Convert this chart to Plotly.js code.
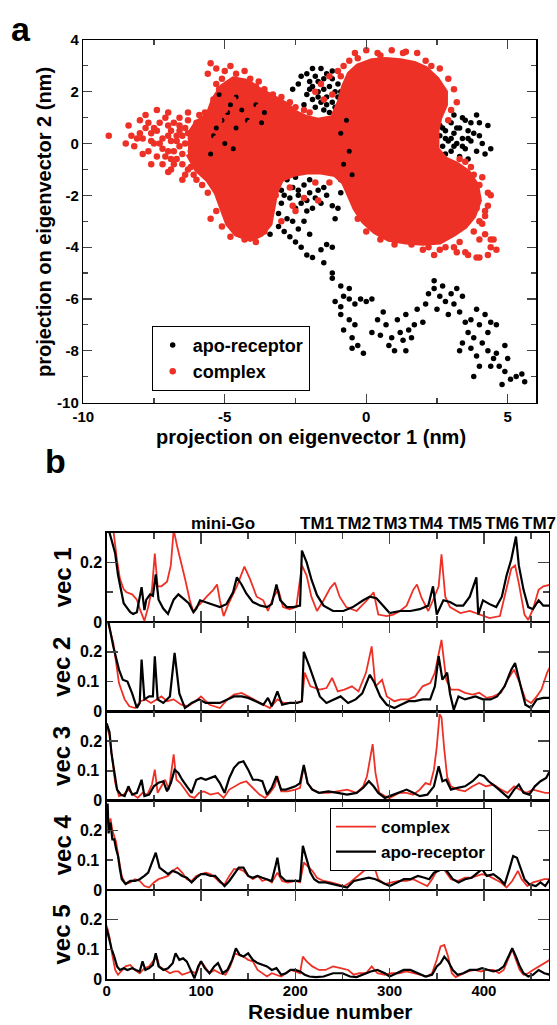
<!DOCTYPE html>
<html><head><meta charset="utf-8">
<script src="https://cdn.plot.ly/plotly-3.0.1.min.js"></script>
<style>html,body{margin:0;padding:0;background:#fff}#chart{width:557px;height:1025px}</style>
</head><body><div id="chart"></div>
<script>
// ---------- Panel a data: projections (nm) ----------
const apoPts = [
[-2.0,2.4],[-1.8,2.6],[-1.6,2.9],[-1.4,2.7],[-1.2,2.5],[-1.9,2.2],[-1.7,2.0],[-1.5,2.1],[-1.3,2.2],[-1.1,2.0],
[-2.1,1.9],[-1.9,1.7],[-1.6,1.6],[-1.4,1.8],[-1.2,1.6],[-1.0,1.8],[-1.8,1.4],[-1.5,1.3],[-1.3,1.2],[-1.1,1.4],
[-2.3,2.6],[-2.1,2.7],[-1.7,2.4],[-1.0,2.3],[-0.9,2.0],[-2.6,2.1],[-2.2,1.5],[-0.8,1.5],[-1.5,2.5],[-1.9,2.9],
[-1.2,2.8],[-2.0,2.1],[-1.4,1.5],[-1.7,1.8],[-2.4,2.3],
[2.6,0.3],[2.8,0.5],[2.9,0.1],[3.0,0.8],[3.1,0.4],[3.2,0.0],[3.3,0.6],[3.4,0.2],[3.5,-0.2],[3.6,0.5],
[3.7,0.1],[3.8,0.4],[3.9,-0.3],[4.0,0.3],[4.1,0.0],[4.3,0.7],[4.4,-0.2],[4.2,-0.4],[3.1,1.1],[3.4,1.0],
[3.9,1.1],[2.7,-0.1],[3.0,-0.3],[3.3,-0.5],[3.6,-0.6],[2.9,0.9],[3.5,0.9],[2.6,0.7],[4.0,0.8],[3.7,0.8],
[2.8,-0.4],[2.85,-3.2],[3.0,0.2],[3.2,0.6],[2.8,0.2],[3.4,-0.1],[3.1,-0.1],[2.7,0.6],[3.6,0.2],
[-3.5,-1.3],[-3.2,-1.5],[-3.0,-1.8],[-2.8,-1.4],[-2.6,-1.7],[-2.4,-2.0],[-2.2,-1.6],[-2.0,-1.9],[-1.8,-2.1],[-1.6,-2.3],
[-1.4,-2.0],[-1.2,-2.4],[-1.0,-2.5],[-3.3,-2.0],[-3.0,-2.3],[-2.7,-2.1],[-2.5,-2.5],[-2.3,-2.3],[-2.1,-2.6],[-1.9,-2.5],
[-3.6,-2.6],[-3.4,-2.9],[-3.1,-2.7],[-2.8,-2.9],[-2.6,-3.0],[-3.7,-3.3],[-3.4,-3.5],[-3.1,-3.2],[-2.9,-3.4],[-2.7,-3.6],
[-2.4,-3.3],[-2.2,-3.0],[-2.0,-3.5],[-3.9,-3.1],[-2.5,-1.3],[-2.0,-1.4],[-1.5,-1.7],[-1.1,-2.9],[-0.9,-1.9],[-0.5,-2.0],
[-0.3,-2.2],[-0.9,-1.4],[-2.9,-2.0],[-2.4,-1.8],[-2.1,-2.2],[-1.7,-1.8],
[-2.5,-3.8],[-2.3,-4.0],[-2.1,-4.3],[-1.9,-4.4],[-1.6,-4.1],[-1.4,-3.9],[-1.2,-4.0],[-1.5,-4.6],[-1.2,-5.0],[-1.2,-5.2],
[-0.9,-5.5],[-0.6,-5.6],
[-1.1,-6.1],[-0.9,-6.3],[-0.8,-5.9],[-0.6,-6.0],[-0.4,-6.2],[-0.2,-6.0],[0.0,-6.1],[0.2,-6.0],[-0.9,-6.6],[-0.6,-6.8],
[-0.4,-7.0],[-0.8,-7.2],[-0.5,-7.5],[-0.3,-7.8],[-0.5,-7.9],[-0.1,-8.1],[0.2,-7.3],[0.4,-6.8],[0.5,-7.4],[0.7,-7.0],
[0.6,-6.5],[0.8,-7.8],[0.9,-7.5],[1.0,-8.0],[1.2,-7.3],[1.3,-7.6],[1.1,-6.8],[1.5,-7.2],[1.4,-6.6],[1.7,-7.0],
[1.8,-6.4],[1.6,-7.5],[1.4,-8.0],[2.0,-6.9],[2.1,-6.2],[2.2,-5.8],[2.4,-5.6],[2.6,-5.9],[2.8,-6.1],[3.0,-5.8],
[3.1,-6.2],[2.5,-6.4],[2.9,-6.6],[3.2,-5.6],[3.4,-5.9],[2.4,-5.3],[2.7,-5.5],[3.3,-6.5],[3.5,-6.9],[3.6,-7.3],
[3.4,-7.7],[3.3,-8.0],[3.7,-7.9],[3.9,-8.2],[3.8,-7.5],[4.0,-7.0],[4.2,-6.6],[4.4,-6.9],[4.6,-7.0],[4.1,-7.7],
[4.3,-8.0],[4.5,-8.3],[4.7,-8.6],[4.9,-8.8],[5.1,-9.1],[5.3,-9.0],[5.5,-8.9],[5.6,-9.2],[4.8,-9.3],[4.4,-8.6],
[4.0,-8.6],[3.8,-9.0],[4.6,-8.1],[3.7,-6.8],[4.9,-7.8],[5.0,-8.3],[3.9,-6.4],[4.3,-7.3]
];
// apo-receptor points that show through the sparse parts of the complex cloud
const apoMixedPts = [
[-5.4,0.3],[-5.3,0.6],[-5.1,0.9],[-4.9,1.2],[-4.8,1.5],[-4.6,1.8],[-4.4,1.3],[-4.2,0.9],[-5.0,0.0],[-4.7,-0.2],
[-3.9,1.5],[-3.6,1.2],[-5.2,1.9],[-4.6,0.6],[-5.5,-0.4],[-3.7,0.8],
[-0.9,0.4],[-0.6,-0.3],[-0.8,-0.8],[-0.5,-1.2],[-0.7,0.9]
];
const complexCore = [
[-6.3,0.3],[-6.0,0.8],[-5.6,1.1],[-5.4,1.7],[-5.1,2.2],[-4.7,2.5],[-4.2,2.4],[-3.8,2.1],[-3.3,1.8],[-2.8,1.5],
[-2.5,1.2],[-2.1,1.0],[-1.7,0.9],[-1.2,1.0],[-0.95,1.6],[-0.8,2.2],[-0.6,2.7],
[-0.3,3.0],[0.2,3.2],[0.7,3.25],[1.2,3.2],[1.7,3.1],[2.1,2.9],[2.5,2.5],[2.8,2.0],[2.8,1.5],[2.6,1.0],
[2.5,0.5],[2.5,-0.2],[2.8,-0.6],[3.2,-0.8],[3.6,-1.1],[3.9,-1.6],[4.0,-2.2],[3.8,-2.8],[3.5,-3.2],[3.1,-3.5],
[2.6,-3.8],[2.0,-3.85],[1.4,-3.8],[0.8,-3.7],[0.3,-3.4],[-0.1,-3.0],[-0.4,-2.5],[-0.6,-2.0],[-0.8,-1.5],[-1.1,-1.2],
[-1.6,-1.1],[-2.1,-1.1],[-2.6,-1.2],[-3.0,-1.4],[-3.2,-1.9],[-3.3,-2.5],[-3.4,-3.1],[-3.7,-3.5],[-4.1,-3.7],[-4.6,-3.5],
[-4.9,-3.1],[-5.1,-2.5],[-5.3,-1.9],[-5.6,-1.4],[-6.0,-1.0],[-6.3,-0.4]
];
const complexPts = [
[-9.1,0.3],[-8.4,0.7],[-8.3,0.3],[-8.2,-0.1],[-8.0,0.9],[-7.8,1.1],[-7.6,0.4],[-7.5,0.0],[-7.4,-0.5],[-7.3,0.8],
[-7.1,1.0],[-7.0,-0.3],[-6.9,0.5],[-6.8,-0.8],[-6.7,0.1],[-6.6,1.0],[-6.5,-0.4],[-6.4,0.6],[-6.3,-1.0],[-6.2,0.2],
[-6.1,-0.6],[-6.0,0.8],[-6.0,-1.4],[-5.9,0.4],[-5.8,-0.2],[-5.7,-1.2],[-5.6,1.0],[-7.9,0.2],[-7.7,-0.3],[-7.2,0.2],
[-6.9,-1.0],[-6.6,-0.1],[-6.4,-1.2],[-6.2,-0.9],[-7.4,1.3],[-6.8,0.8],[-6.3,0.9],[-8.5,0.0],[-7.0,0.3],[-6.5,0.3],
[-6.1,0.0],[-5.9,-0.8],[-7.6,-0.8],[-6.7,-0.6],[-7.2,-0.8],[-6.6,0.5],[-7.8,0.6],[-6.0,0.4],
[-8.0,0.4],[-7.7,0.8],[-7.5,0.6],[-7.3,0.0],[-7.1,-0.5],[-6.9,0.1],[-6.8,-0.3],[-6.6,0.7],[-6.5,-0.8],[-6.4,0.0],
[-6.3,0.4],[-6.2,-0.3],[-7.6,0.1],[-7.4,0.5],[-7.0,0.7],[-6.9,-0.6],[-6.7,0.3],[-7.2,-0.2],[-8.1,0.2],[-7.9,-0.4],
[-6.1,-1.2],[-6.5,-1.4],[-7.0,-1.1],[-5.8,-1.6],[-5.9,1.1],[-6.3,1.2],[-7.0,1.2],
[-5.5,3.1],[-5.3,2.9],[-5.0,2.8],[-4.8,3.0],[-4.6,2.7],[-5.6,2.7],[-4.4,2.4],[-4.1,2.5],[-3.9,2.2],[-3.6,2.1],
[-3.3,1.9],[-3.0,1.8],[-2.7,1.6],[-4.9,2.3],[-5.2,2.1],[-5.4,1.7],[-4.2,1.9],[-3.7,1.7],[-5.0,1.6],[-4.7,2.0],
[-3.2,1.5],[-2.5,1.4],[-2.2,1.3],[-4.5,2.2],[-5.1,2.5],[-3.8,2.4],[-4.3,2.8],[-5.3,2.3],
[-5.6,0.6],[-5.2,0.9],[-4.9,0.5],[-4.5,1.1],[-4.1,0.8],[-3.8,1.4],[-5.0,1.3],[-4.3,1.5],[-5.3,0.2],[-4.6,0.2],
[-4.0,0.2],[-5.7,1.2],[-4.7,1.7],[-5.5,0.0],[-4.8,0.8],[-4.4,0.5],[-5.1,-0.2],
[-1.8,2.0],[-1.5,1.7],[-1.2,1.9],[-2.0,1.2],[-1.3,2.6],[-1.6,2.3],[-0.9,2.6],
[-1.0,2.8],[-0.8,3.0],[-0.6,3.2],[-0.4,3.5],[0.0,3.6],[0.4,3.5],[0.9,3.6],[1.4,3.55],[1.8,3.5],[2.1,3.2],
[2.6,2.9],[2.9,2.5],[3.1,2.1],[3.2,1.6],[3.0,1.3],[-0.3,3.3],[0.5,3.4],[1.3,3.5],[2.3,3.0],[2.9,0.9],
[3.3,-0.6],[3.7,-0.9],[4.1,-1.3],[4.3,-1.9],[4.2,-2.6],[4.0,-3.0],[3.8,-3.4],[4.4,-3.7],[4.6,-4.1],[4.3,-4.3],
[3.9,-4.4],[3.5,-4.2],[3.1,-4.0],[2.6,-4.1],[2.2,-4.0],[1.6,-3.9],[1.0,-3.9],[0.5,-3.7],[0.0,-3.4],[-0.3,-2.9],
[3.6,-3.0],[4.0,-3.7],[4.2,-3.5],[4.4,-4.0],[4.0,-4.4],[3.6,-4.3],[3.2,-4.2],[2.8,-4.0],[4.2,-2.8],[4.4,-2.0],
[4.0,-1.6],[3.8,-1.2],[3.5,-0.7],[2.4,-4.3],[2.0,-4.1],[3.9,-2.5],[4.3,-2.4],[4.1,-3.1],[3.3,-3.8],[4.5,-3.7],
[-3.6,-3.4],[-3.9,-3.8],[-4.3,-3.7],[-4.8,-3.6],[-5.1,-3.2],[-5.3,-2.6],[-5.6,-1.9],[-5.5,-2.9],[-3.5,-2.6],[-3.2,-2.0],
[-2.7,-1.7],[-2.2,-2.1],[-1.8,-1.5],[-1.3,-1.5],[-2.5,-2.6],[-3.0,-3.0],[-5.3,-1.6],[-4.7,-2.5],[-1.7,-2.2],[-2.6,-2.4]
];

// ---------- Panel b data: residue number vs component ----------
const vec1Complex = [[0,0.45],[4,0.38],[7,0.31],[11,0.206],[14,0.146],[18,0.11],[21,0.1],[27,0.093],[32,0.075],[35,0.045],[40,0.004],[44,0.05],[48,0.11],[51,0.23],[54,0.12],[58,0.12],[64,0.135],[68,0.19],[71,0.31],[75,0.25],[80,0.19],[83,0.146],[88,0.075],[92,0.033],[95,0.05],[99,0.06],[106,0.085],[113,0.108],[117,0.126],[120,0.073],[124,0.02],[129,0.06],[138,0.12],[146,0.186],[152,0.144],[159,0.085],[166,0.073],[171,0.037],[177,0.085],[182,0.108],[187,0.05],[194,0.043],[201,0.05],[207,0.19],[212,0.156],[217,0.085],[223,0.037],[230,0.073],[237,0.114],[242,0.132],[247,0.085],[254,0.05],[265,0.037],[276,0.073],[283,0.1],[288,0.025],[297,0.02],[304,0.025],[311,0.037],[318,0.055],[325,0.108],[329,0.126],[334,0.08],[341,0.037],[346,0.073],[352,0.12],[355,0.227],[359,0.085],[364,0.05],[375,0.03],[385,0.037],[396,0.025],[406,0.013],[417,0.02],[424,0.12],[429,0.18],[433,0.19],[437,0.13],[443,0.025],[447,0.007],[452,0.043],[458,0.108],[463,0.12],[470,0.125]];
const vec1Apo = [[0,0.38],[3,0.3],[5,0.277],[9,0.23],[12,0.158],[16,0.1],[18,0.063],[21,0.05],[25,0.033],[28,0.027],[32,0.033],[37,0.117],[40,0.04],[42,0.075],[46,0.093],[49,0.088],[52,0.16],[55,0.075],[60,0.045],[65,0.027],[71,0.075],[76,0.093],[81,0.08],[87,0.063],[92,0.033],[95,0.045],[99,0.073],[110,0.06],[120,0.05],[127,0.06],[134,0.1],[138,0.15],[143,0.126],[148,0.096],[155,0.067],[163,0.055],[170,0.05],[175,0.06],[180,0.126],[184,0.073],[191,0.05],[198,0.05],[205,0.055],[207,0.24],[212,0.2],[217,0.144],[223,0.09],[230,0.055],[240,0.037],[251,0.037],[261,0.05],[272,0.073],[279,0.085],[286,0.08],[293,0.055],[300,0.03],[311,0.037],[322,0.037],[332,0.043],[341,0.055],[346,0.12],[350,0.025],[357,0.073],[364,0.067],[371,0.055],[378,0.055],[385,0.085],[392,0.15],[394,0.025],[399,0.073],[406,0.06],[413,0.05],[419,0.085],[424,0.156],[429,0.21],[434,0.287],[437,0.19],[442,0.108],[447,0.05],[452,0.043],[458,0.073],[463,0.055],[470,0.055]];
const vec2Complex = [[0,0.32],[2,0.29],[7,0.23],[13,0.095],[19,0.04],[24,0.017],[30,0.011],[36,0.034],[41,0.04],[47,0.028],[53,0.04],[58,0.05],[64,0.034],[71,0.04],[79,0.022],[86,0.017],[94,0.034],[100,0.05],[109,0.022],[120,0.011],[128,0.04],[135,0.056],[143,0.062],[150,0.05],[158,0.034],[166,0.022],[173,0.011],[181,0.04],[188,0.028],[200,0.028],[207,0.034],[210,0.13],[216,0.084],[226,0.073],[233,0.078],[239,0.112],[245,0.067],[252,0.073],[260,0.084],[267,0.067],[275,0.13],[281,0.218],[285,0.084],[292,0.106],[297,0.05],[305,0.034],[312,0.04],[320,0.04],[327,0.05],[335,0.084],[343,0.095],[348,0.13],[355,0.24],[360,0.106],[365,0.073],[373,0.073],[380,0.062],[388,0.056],[395,0.062],[403,0.045],[410,0.05],[418,0.062],[425,0.106],[432,0.14],[438,0.095],[444,0.04],[450,0.028],[456,0.05],[461,0.073],[467,0.13],[472,0.16]];
const vec2Apo = [[0,0.33],[2,0.297],[7,0.218],[13,0.14],[17,0.106],[22,0.1],[27,0.06],[32,0.011],[35,0.028],[37,0.174],[40,0.04],[45,0.05],[49,0.05],[51,0.185],[54,0.04],[60,0.028],[67,0.05],[72,0.196],[77,0.06],[83,0.011],[90,0.028],[98,0.04],[105,0.028],[113,0.028],[120,0.028],[128,0.04],[135,0.05],[143,0.05],[150,0.045],[158,0.034],[166,0.022],[171,0.045],[175,0.017],[181,0.067],[186,0.022],[194,0.028],[202,0.028],[207,0.034],[209,0.2],[215,0.15],[220,0.106],[226,0.05],[233,0.028],[241,0.04],[248,0.05],[256,0.028],[264,0.04],[271,0.06],[279,0.123],[284,0.095],[290,0.05],[297,0.022],[305,0.011],[312,0.022],[320,0.034],[327,0.034],[335,0.04],[343,0.04],[348,0.084],[352,0.185],[356,0.106],[361,0.13],[364,0.06],[368,0.005],[373,0.05],[380,0.04],[391,0.05],[399,0.04],[407,0.04],[414,0.05],[422,0.084],[429,0.14],[433,0.162],[439,0.084],[444,0.022],[450,0.011],[456,0.04],[463,0.045],[471,0.045]];
const vec3Complex = [[0,0.25],[3,0.22],[6,0.137],[9,0.06],[13,0.015],[18,0.02],[23,0.037],[28,0.02],[33,0.009],[38,0.026],[43,0.02],[48,0.054],[51,0.104],[54,0.026],[58,0.048],[62,0.07],[66,0.037],[71,0.155],[74,0.07],[78,0.059],[83,0.037],[88,0.015],[93,0.009],[98,0.026],[103,0.031],[110,0.02],[118,0.026],[124,0.009],[130,0.037],[136,0.048],[142,0.059],[148,0.065],[155,0.043],[162,0.02],[168,0.009],[173,0.026],[178,0.048],[181,0.082],[185,0.031],[192,0.031],[200,0.037],[205,0.043],[209,0.115],[213,0.059],[218,0.037],[225,0.026],[235,0.026],[245,0.031],[255,0.037],[265,0.026],[272,0.048],[276,0.082],[280,0.16],[282,0.19],[285,0.093],[289,0.026],[295,0.015],[300,0.009],[310,0.026],[318,0.026],[325,0.02],[332,0.037],[338,0.059],[343,0.054],[347,0.104],[350,0.18],[353,0.29],[355,0.28],[358,0.17],[361,0.08],[365,0.048],[372,0.037],[380,0.031],[388,0.048],[395,0.059],[402,0.048],[410,0.054],[418,0.037],[425,0.026],[432,0.048],[438,0.037],[445,0.026],[452,0.037],[458,0.031],[465,0.026],[470,0.026]];
const vec3Apo = [[0,0.26],[3,0.23],[5,0.16],[8,0.093],[11,0.037],[15,0.02],[19,0.015],[23,0.048],[27,0.02],[32,0.026],[37,0.07],[40,0.015],[45,0.02],[50,0.048],[55,0.06],[60,0.065],[64,0.031],[68,0.059],[72,0.104],[76,0.093],[80,0.07],[85,0.048],[90,0.026],[95,0.07],[100,0.076],[105,0.07],[110,0.076],[115,0.082],[120,0.059],[125,0.026],[130,0.076],[135,0.11],[140,0.127],[145,0.132],[150,0.104],[155,0.07],[160,0.07],[165,0.065],[170,0.02],[175,0.043],[180,0.082],[185,0.037],[190,0.037],[195,0.043],[200,0.048],[205,0.059],[209,0.12],[213,0.059],[218,0.037],[225,0.026],[235,0.031],[245,0.026],[255,0.02],[265,0.026],[272,0.043],[278,0.065],[283,0.048],[288,0.026],[295,0.009],[300,0.015],[310,0.026],[318,0.037],[325,0.026],[332,0.015],[340,0.02],[347,0.048],[352,0.115],[356,0.065],[360,0.07],[365,0.037],[372,0.043],[380,0.048],[388,0.065],[395,0.087],[400,0.082],[405,0.065],[412,0.048],[420,0.026],[426,0.009],[432,0.037],[437,0.054],[442,0.026],[448,0.02],[454,0.048],[460,0.065],[466,0.076],[470,0.1]];
const vec4Complex = [[0,0.28],[2,0.22],[4,0.24],[6,0.2],[8,0.18],[10,0.16],[12,0.12],[14,0.08],[16,0.045],[20,0.02],[25,0.025],[30,0.036],[35,0.03],[40,0.013],[45,0.008],[50,0.025],[55,0.036],[60,0.041],[65,0.047],[70,0.064],[75,0.075],[80,0.058],[85,0.036],[90,0.03],[95,0.047],[100,0.053],[105,0.058],[110,0.053],[115,0.041],[120,0.025],[125,0.019],[130,0.047],[135,0.07],[140,0.07],[145,0.064],[150,0.047],[155,0.036],[160,0.047],[165,0.03],[170,0.036],[175,0.025],[181,0.058],[186,0.03],[192,0.025],[200,0.03],[205,0.025],[209,0.092],[213,0.08],[218,0.064],[223,0.041],[230,0.03],[238,0.025],[245,0.019],[252,0.013],[258,0.025],[264,0.041],[270,0.058],[275,0.07],[280,0.103],[284,0.075],[288,0.036],[295,0.019],[302,0.025],[310,0.03],[318,0.03],[325,0.036],[332,0.025],[340,0.013],[345,0.036],[350,0.064],[355,0.08],[360,0.058],[365,0.036],[372,0.03],[380,0.041],[387,0.041],[393,0.047],[398,0.053],[405,0.047],[412,0.036],[418,0.025],[424,0.008],[430,0.03],[436,0.064],[440,0.036],[446,0.013],[452,0.025],[458,0.03],[464,0.036],[470,0.036]];
const vec4Apo = [[0,0.27],[1,0.29],[2,0.19],[4,0.226],[6,0.17],[8,0.17],[10,0.137],[12,0.114],[14,0.07],[16,0.036],[20,0.02],[25,0.03],[30,0.03],[35,0.036],[40,0.047],[44,0.058],[48,0.092],[52,0.125],[56,0.075],[60,0.064],[65,0.053],[70,0.064],[75,0.058],[80,0.047],[85,0.041],[90,0.025],[95,0.041],[100,0.053],[105,0.053],[110,0.047],[115,0.047],[120,0.03],[125,0.013],[130,0.03],[135,0.053],[140,0.075],[145,0.075],[150,0.047],[155,0.041],[160,0.047],[165,0.041],[170,0.036],[175,0.03],[179,0.08],[181,0.108],[184,0.047],[190,0.03],[195,0.03],[200,0.03],[205,0.03],[208,0.148],[212,0.103],[216,0.058],[220,0.036],[225,0.025],[232,0.025],[240,0.019],[248,0.013],[255,0.008],[262,0.03],[270,0.036],[278,0.041],[285,0.036],[292,0.025],[300,0.013],[308,0.025],[315,0.036],[322,0.036],[330,0.047],[337,0.041],[342,0.036],[347,0.058],[352,0.064],[358,0.075],[362,0.058],[367,0.036],[373,0.025],[380,0.036],[387,0.041],[393,0.058],[398,0.07],[403,0.047],[410,0.053],[417,0.036],[422,0.019],[427,0.07],[431,0.114],[435,0.108],[439,0.07],[443,0.036],[448,0.019],[455,0.013],[460,0.025],[465,0.013],[470,0.036]];
const vec5Complex = [[0,0.18],[3,0.14],[6,0.08],[9,0.031],[12,0.015],[16,0.031],[20,0.043],[25,0.048],[30,0.031],[35,0.02],[40,0.037],[45,0.043],[50,0.065],[53,0.076],[56,0.043],[62,0.031],[67,0.02],[72,0.026],[76,0.026],[80,0.015],[85,0.02],[90,0.026],[95,0.02],[100,0.06],[104,0.043],[109,0.02],[114,0.031],[120,0.02],[126,0.015],[131,0.043],[136,0.087],[140,0.082],[145,0.076],[150,0.065],[155,0.06],[160,0.031],[165,0.02],[170,0.009],[175,0.02],[180,0.015],[185,0.009],[190,0.02],[195,0.031],[200,0.026],[205,0.02],[208,0.076],[212,0.06],[218,0.043],[225,0.031],[232,0.031],[240,0.043],[248,0.037],[256,0.031],[262,0.015],[268,0.02],[275,0.02],[281,0.043],[287,0.02],[295,0.015],[302,0.02],[310,0.02],[318,0.026],[325,0.02],[332,0.015],[340,0.009],[345,0.02],[350,0.065],[354,0.11],[358,0.115],[362,0.076],[366,0.02],[370,0.007],[376,0.015],[383,0.026],[390,0.031],[397,0.026],[403,0.031],[410,0.031],[416,0.02],[421,0.031],[426,0.07],[430,0.1],[434,0.065],[438,0.031],[442,0.015],[447,0.02],[452,0.031],[458,0.043],[464,0.054],[470,0.065]];
const vec5Apo = [[0,0.17],[2,0.143],[5,0.104],[8,0.076],[11,0.043],[14,0.031],[18,0.037],[22,0.031],[27,0.037],[31,0.031],[35,0.026],[38,0.06],[41,0.031],[45,0.037],[49,0.048],[52,0.087],[55,0.043],[60,0.031],[65,0.037],[70,0.054],[73,0.087],[77,0.065],[81,0.07],[85,0.059],[89,0.031],[93,0.003],[97,0.043],[100,0.06],[104,0.037],[109,0.02],[114,0.043],[118,0.054],[123,0.02],[128,0.031],[133,0.065],[137,0.104],[141,0.082],[145,0.076],[150,0.087],[155,0.065],[160,0.054],[165,0.048],[170,0.043],[175,0.031],[180,0.037],[185,0.015],[190,0.02],[195,0.031],[200,0.031],[205,0.026],[210,0.015],[215,0.009],[222,0.007],[230,0.009],[240,0.02],[250,0.02],[258,0.009],[265,0.007],[272,0.015],[280,0.026],[287,0.031],[295,0.02],[300,0.009],[308,0.02],[315,0.031],[322,0.031],[330,0.02],[338,0.009],[345,0.015],[350,0.043],[354,0.054],[358,0.076],[362,0.06],[367,0.031],[372,0.015],[378,0.02],[385,0.031],[392,0.031],[398,0.037],[404,0.031],[410,0.026],[416,0.031],[421,0.043],[426,0.076],[430,0.104],[434,0.076],[438,0.043],[442,0.02],[447,0.009],[452,0.015],[458,0.031],[464,0.02],[470,0.015]];

const vecLabels = ["vec 1","vec 2","vec 3","vec 4","vec 5"];
const regionLabels = ["mini-Go","TM1","TM2","TM3","TM4","TM5","TM6","TM7"];
const xTickA = [-10,-5,0,5], xTickAText = ["-10","-5","0","5"];
const yTickA = [-10,-8,-6,-4,-2,0,2,4], yTickAText = ["-10","-8","-6","-4","-2","0","2","4"];
const resTicks = [0,100,200,300,400];

// ---------- geometry helpers (pixels -> paper) ----------
const W = 557, H = 1025;
const px = v => v / W, py = v => 1 - v / H;
const RED = "#ee3126", BLACK = "#000000";
const FONT = "Liberation Sans, Arial, Helvetica, sans-serif";
const bold = (size, color) => ({family: FONT, size: size, color: color || "#000", weight: "bold"});

const traces = [];
// panel a
traces.push({type:"scatter", mode:"markers", name:"apo-receptor", x:apoPts.map(p=>p[0]), y:apoPts.map(p=>p[1]),
  marker:{color:BLACK, size:5.5}, xaxis:"x", yaxis:"y", legend:"legend"});
traces.push({type:"scatter", mode:"lines", x:complexCore.map(p=>p[0]), y:complexCore.map(p=>p[1]), fill:"toself",
  fillcolor:RED, line:{color:RED, width:5}, showlegend:false, hoverinfo:"skip", xaxis:"x", yaxis:"y"});
traces.push({type:"scatter", mode:"markers", x:apoMixedPts.map(p=>p[0]), y:apoMixedPts.map(p=>p[1]),
  marker:{color:BLACK, size:5}, showlegend:false, xaxis:"x", yaxis:"y"});
traces.push({type:"scatter", mode:"markers", name:"complex", x:complexPts.map(p=>p[0]), y:complexPts.map(p=>p[1]),
  marker:{color:RED, size:6.5}, xaxis:"x", yaxis:"y", legend:"legend"});

// panel b
const vecData = [[vec1Complex,vec1Apo],[vec2Complex,vec2Apo],[vec3Complex,vec3Apo],[vec4Complex,vec4Apo],[vec5Complex,vec5Apo]];
vecData.forEach((pair, i) => {
  const ax = i + 2;
  traces.push({type:"scatter", mode:"lines", name:"complex", x:pair[0].map(p=>p[0]), y:pair[0].map(p=>p[1]),
    line:{color:RED, width:1.8}, xaxis:"x"+ax, yaxis:"y"+ax, showlegend:i===0, legend:"legend2"});
  traces.push({type:"scatter", mode:"lines", name:"apo-receptor", x:pair[1].map(p=>p[0]), y:pair[1].map(p=>p[1]),
    line:{color:BLACK, width:2.2}, xaxis:"x"+ax, yaxis:"y"+ax, showlegend:i===0, legend:"legend2"});
});

const layout = {
  width: W, height: H, margin:{l:0,r:0,t:0,b:0}, paper_bgcolor:"#fff", plot_bgcolor:"#fff",
  showlegend:true, font:{family:FONT, color:"#000"},
  xaxis:{domain:[px(83.3),px(536)], range:[-10,6], tickvals:xTickA, ticktext:xTickAText, ticks:"inside", ticklen:9, tickwidth:1.2,
    minor:{tickvals:[-7.5,-2.5,2.5], ticks:"inside", ticklen:5, tickwidth:1.2}, mirror:"allticks", showline:true, linewidth:1.5,
    linecolor:"#000", showgrid:false, zeroline:false, tickfont:bold(15), anchor:"y"},
  yaxis:{domain:[py(402.5),py(40)], range:[-10,4], tickvals:yTickA, ticktext:yTickAText, ticks:"inside", ticklen:9, tickwidth:1.2,
    minor:{dtick:1, tick0:0, ticks:"inside", ticklen:5, tickwidth:1.2}, mirror:"allticks", showline:true, linewidth:1.5,
    linecolor:"#000", showgrid:false, zeroline:false, tickfont:bold(15), anchor:"x"},
  legend:{x:px(151.7), y:py(325.7), xanchor:"left", yanchor:"top", bgcolor:"#fff", bordercolor:"#000", borderwidth:1,
    font:bold(18), itemwidth:30, tracegroupgap:0},
  legend2:{x:px(330), y:py(808), xanchor:"left", yanchor:"top", bgcolor:"#fff", bordercolor:"#000", borderwidth:1,
    font:bold(17), itemwidth:40, traceorder:"normal"},
  annotations:[]
};

const tops = [532.7, 622, 711.3, 800.6, 889.9, 979.2];
for (let i = 0; i < 5; i++) {
  const ax = i + 2;
  layout["xaxis"+ax] = {domain:[px(106.7),px(549)], range:[0,469], tickvals:resTicks, ticks:"inside", ticklen:11, tickwidth:1.5,
    minor:{dtick:50, tick0:0, ticks:"inside", ticklen:6, tickwidth:1.5}, mirror:"allticks", showline:true, linewidth:1.3,
    linecolor:"#000", showgrid:false, zeroline:false, showticklabels:i===4, tickfont:bold(15), ticklabelstandoff:-3, anchor:"y"+ax};
  layout["yaxis"+ax] = {domain:[py(tops[i+1]),py(tops[i])], range:[0,0.3], tickvals:[0,0.2], ticktext:["0","0.2"], ticks:"inside", ticklen:11, tickwidth:1.5,
    minor:{tickvals:[0.1], ticks:"inside", ticklen:6, tickwidth:1.5}, mirror:"allticks", showline:true, linewidth:1.3,
    linecolor:"#000", showgrid:false, zeroline:false, tickfont:bold(16), anchor:"x"+ax};
  if (i > 0) layout.annotations.push({xref:"paper", yref:"y"+ax, x:px(101), y:0.1, text:"0.1", showarrow:false,
    xanchor:"right", yanchor:"middle", font:bold(16)});
  layout.annotations.push({xref:"paper", yref:"paper", x:px(62), y:py((tops[i]+tops[i+1])/2), text:vecLabels[i], textangle:-90,
    showarrow:false, xanchor:"center", yanchor:"middle", font:bold(24)});
}
const regionX = [223, 316.7, 354, 390, 426.7, 465, 501.7, 539];
regionLabels.forEach((t, k) => layout.annotations.push({xref:"paper", yref:"paper", x:px(regionX[k]), y:py(523), text:t,
  showarrow:false, xanchor:"center", yanchor:"middle", font:bold(17)}));
layout.annotations.push(
  {xref:"paper", yref:"paper", x:px(9), y:py(8), text:"a", showarrow:false, xanchor:"left", yanchor:"top", font:bold(34)},
  {xref:"paper", yref:"paper", x:px(43), y:py(440), text:"b", showarrow:false, xanchor:"left", yanchor:"top", font:bold(34)},
  {xref:"paper", yref:"paper", x:px(311), y:py(437), text:"projection on eigenvector 1 (nm)", showarrow:false, xanchor:"center", yanchor:"middle", font:bold(20)},
  {xref:"paper", yref:"paper", x:px(44), y:py(222), text:"projection on eigenvector 2 (nm)", textangle:-90, showarrow:false, xanchor:"center", yanchor:"middle", font:bold(20)},
  {xref:"paper", yref:"paper", x:px(330), y:py(1025), text:"Residue number", showarrow:false, xanchor:"center", yanchor:"bottom", font:bold(21)}
);

Plotly.newPlot("chart", traces, layout, {displayModeBar:false, staticPlot:true});
</script></body></html>
